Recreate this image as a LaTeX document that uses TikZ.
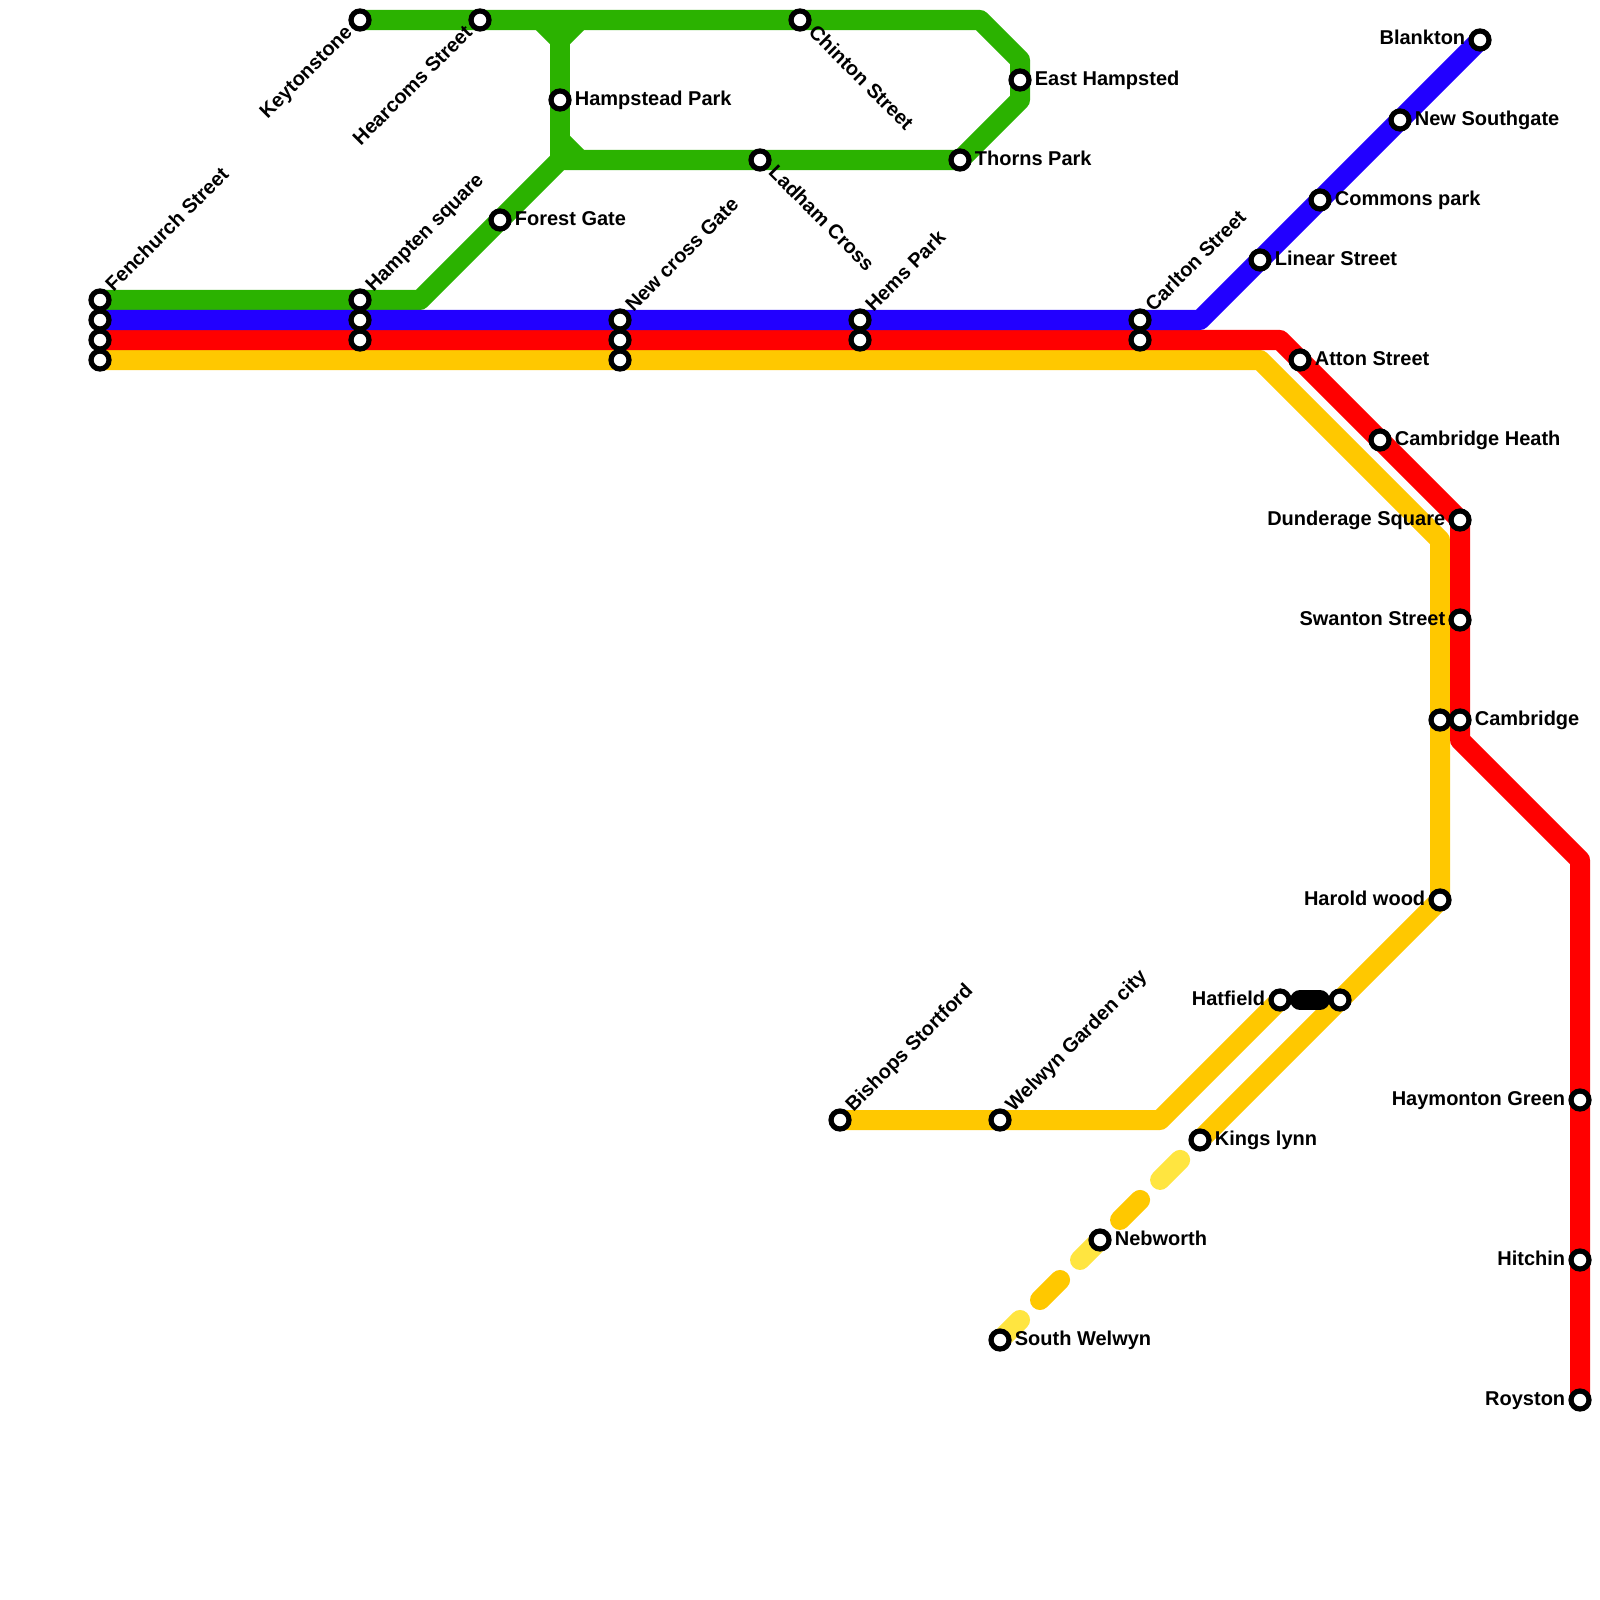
\documentclass[tikz,border=0pt]{standalone}
\usepackage{fontspec}
\setmainfont{Liberation Sans}
\usetikzlibrary{positioning,backgrounds}
\definecolor{linegreen}{RGB}{43,178,0}
\definecolor{lineblue}{RGB}{34,0,255}
\definecolor{linered}{RGB}{255,0,0}
\definecolor{lineyellow}{RGB}{255,200,0}
\definecolor{lightyellow}{RGB}{255,229,64}

\begin{document}
\begin{tikzpicture}[
        x=0.01cm, y=-0.01cm,
        node distance=0.025cm,
        stn/.style={draw, circle, fill=white, line width=0.052cm, minimum size=0.18cm, inner sep=0pt},
        tag/.style={inner sep=0pt, text height=1.6mm, text depth=0.6mm, font=\fontsize{5.69pt}{6.8pt}\selectfont\bfseries},
        upright/.style={tag, rotate=45, anchor=west, xshift=0.144cm, yshift=0.009cm},
        upleft/.style={tag, rotate=45, anchor=east, xshift=-0.137cm, yshift=0cm},
        downright/.style={tag, rotate=-45, anchor=west, xshift=0.144cm, yshift=0.007cm},
        route/.style={line width=0.2cm, line join=round},
        dashroute/.style={line width=0.2cm, line cap=round, dash pattern=on 8.05pt off 24.14pt}
    ]
        \useasboundingbox (0,0) rectangle (1600,1600);

        % main trunk
        \node[stn] (fenchurch) at (100,300) {};
        \node[stn] (fenchblue) at (100,320) {};
        \node[stn] (fenchred) at (100,340) {};
        \node[stn] (fenchyellow) at (100,360) {};
        \node[stn] (hampten) at (360,300) {};
        \node[stn] (hamptenblue) at (360,320) {};
        \node[stn] (hamptenred) at (360,340) {};
        \node[stn] (newcross) at (620,320) {};
        \node[stn] (newcrossred) at (620,340) {};
        \node[stn] (newcrossyellow) at (620,360) {};
        \node[stn] (hems) at (860,320) {};
        \node[stn] (hemsred) at (860,340) {};
        \node[stn] (carlton) at (1140,320) {};
        \node[stn] (carltonred) at (1140,340) {};

        % green loop
        \node[stn] (keyton) at (360,20) {};
        \node[stn] (hearcoms) at (480,20) {};
        \node[stn] (hampstead) at (560,100) {};
        \node[stn] (forest) at (500,220) {};
        \node[stn] (chinton) at (800,20) {};
        \node[stn] (ladham) at (760,160) {};
        \node[stn] (thorns) at (960,160) {};
        \node[stn] (easth) at (1020,80) {};

        % blue
        \node[stn] (linear) at (1260,260) {};
        \node[stn] (commons) at (1320,200) {};
        \node[stn] (southgate) at (1400,120) {};
        \node[stn] (blankton) at (1480,40) {};

        % red
        \node[stn] (atton) at (1300,360) {};
        \node[stn] (camheath) at (1380,440) {};
        \node[stn] (dunderage) at (1460,520) {};
        \node[stn] (swanton) at (1460,620) {};
        \node[stn] (cambridge) at (1460,720) {};
        \node[stn] (haymonton) at (1580,1100) {};
        \node[stn] (hitchin) at (1580,1260) {};
        \node[stn] (royston) at (1580,1400) {};

        % yellow
        \node[stn] (cambyellow) at (1440,720) {};
        \node[stn] (harold) at (1440,900) {};
        \node[stn] (hatfield) at (1280,1000) {};
        \node[stn] (hatfieldb) at (1340,1000) {};
        \node[stn] (bishops) at (840,1120) {};
        \node[stn] (welwyngc) at (1000,1120) {};
        \node[stn] (kings) at (1200,1140) {};
        \node[stn] (nebworth) at (1100,1240) {};
        \node[stn] (swelwyn) at (1000,1340) {};

        \begin{scope}[on background layer]
            \fill[white] (0,0) rectangle (1600,1600);
            \draw[route, linegreen] (fenchurch.center) -- (420,300) -- (560,160) -- (960,160) -- (1020,100) -- (1020,60) -- (980,20) -- (keyton.center);
            \draw[route, linegreen] (560,160) -- (560,40);
            \draw[route, linegreen] (540,20) -- (560,40) -- (580,20);
            \draw[route, linegreen] (560,140) -- (580,160);
            \draw[route, lineyellow] (fenchyellow.center) -- (1260,360) -- (1440,540) -- (harold.center) -- (kings.center);
            \draw[route, lineyellow] (bishops.center) -- (1160,1120) -- (hatfield.center);
            \draw[route, linered] (fenchred.center) -- (1280,340) -- (dunderage.center) -- (1460,740) -- (1580,860) -- (royston.center);
            \draw[route, lineblue] (fenchblue.center) -- (1200,320) -- (blankton.center);
            \draw[dashroute, lightyellow] (swelwyn.center) -- (kings.center);
            \draw[dashroute, lineyellow, dash phase=16.1pt] (swelwyn.center) -- (kings.center);
        \end{scope}
        \draw[line width=0.2cm, line cap=round, shorten <=0.085cm, shorten >=0.085cm] (hatfield) -- (hatfieldb);

        \node[upright] at (fenchurch) {Fenchurch Street};
        \node[upright] at (hampten) {Hampten square};
        \node[upright] at (newcross) {New cross Gate};
        \node[upright] at (hems) {Hems Park};
        \node[upright] at (carlton) {Carlton Street};
        \node[upright] at (bishops) {Bishops Stortford};
        \node[upright] at (welwyngc) {Welwyn Garden city};
        \node[upleft] at (keyton) {Keytonstone};
        \node[upleft] at (hearcoms) {Hearcoms Street};
        \node[downright] at (chinton) {Chinton Street};
        \node[downright] at (ladham) {Ladham Cross};

        \node[tag, right=of hampstead] {Hampstead Park};
        \node[tag, right=of forest] {Forest Gate};
        \node[tag, right=of easth] {East Hampsted};
        \node[tag, right=of thorns] {Thorns Park};
        \node[tag, right=of southgate] {New Southgate};
        \node[tag, right=of commons] {Commons park};
        \node[tag, right=of linear] {Linear Street};
        \node[tag, right=of atton] {Atton Street};
        \node[tag, right=of camheath] {Cambridge Heath};
        \node[tag, right=of cambridge] {Cambridge};
        \node[tag, right=of kings] {Kings lynn};
        \node[tag, right=of nebworth] {Nebworth};
        \node[tag, right=of swelwyn] {South Welwyn};

        \node[tag, left=of blankton] {Blankton};
        \node[tag, left=of dunderage] {Dunderage Square};
        \node[tag, left=of swanton] {Swanton Street};
        \node[tag, left=of harold] {Harold wood};
        \node[tag, left=of hatfield] {Hatfield};
        \node[tag, left=of haymonton] {Haymonton Green};
        \node[tag, left=of hitchin] {Hitchin};
        \node[tag, left=of royston] {Royston};
    \end{tikzpicture}
\end{document}
